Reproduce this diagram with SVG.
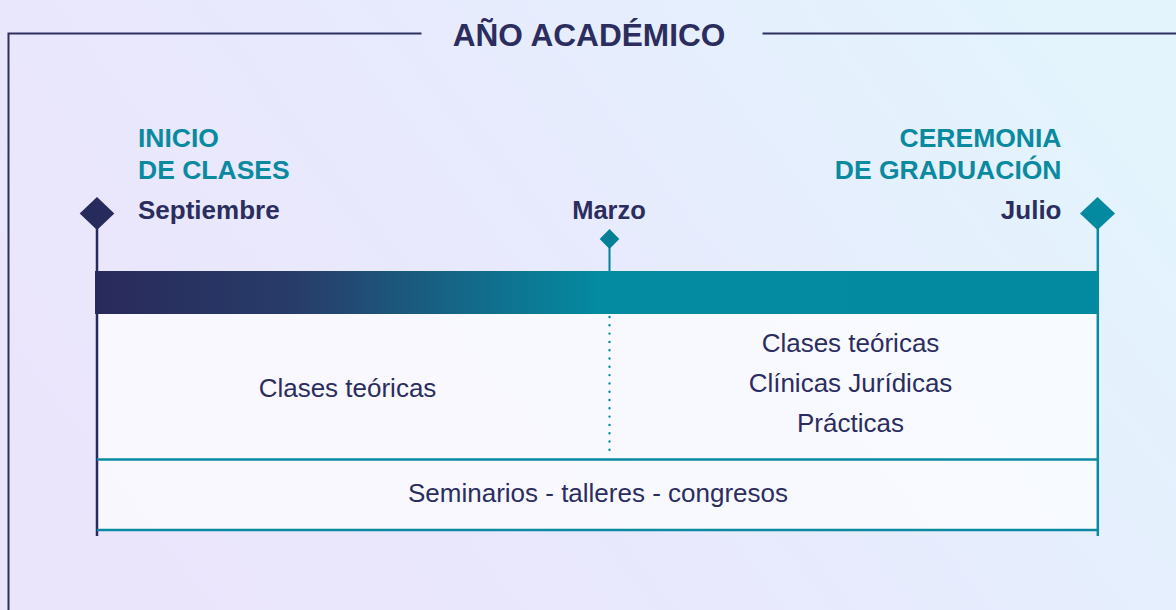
<svg xmlns="http://www.w3.org/2000/svg" width="1176" height="610" viewBox="0 0 1176 610">
<defs>
<linearGradient id="bg" x1="0" y1="0.7" x2="1" y2="0.3">
<stop offset="0" stop-color="#ebe5fc"/>
<stop offset="0.45" stop-color="#e8e9fd"/>
<stop offset="1" stop-color="#e3f4fd"/>
</linearGradient>
<linearGradient id="bar" x1="95" y1="0" x2="1099" y2="0" gradientUnits="userSpaceOnUse">
<stop offset="0" stop-color="#292a5b"/>
<stop offset="0.2" stop-color="#283c69"/>
<stop offset="0.5" stop-color="#048aa1"/>
<stop offset="1" stop-color="#0389a0"/>
</linearGradient>
<style>
.frame{fill:none;stroke:#2d2f60;stroke-width:2}
.navy{fill:#2b2d5e}
.teal{fill:#0a8aa0}
.bold{font-family:"Liberation Sans",Arial,sans-serif;font-weight:bold}
.reg{font-family:"Liberation Sans",Arial,sans-serif;font-size:26px;fill:#2b2d5e}
.tline{stroke:#0a8aa0;stroke-width:2.5;fill:none}
.panel{fill:#ffffff;fill-opacity:0.7}
</style>
</defs>
<rect width="1176" height="610" fill="url(#bg)"/>
<g id="frame">
<path class="frame" d="M421.5 33.5 H8.5 V610 M762.5 33.5 H1176"/>
<text class="bold navy" x="589" y="45.7" font-size="31.6" text-anchor="middle">AÑO ACADÉMICO</text>
</g>
<g id="panels">
<rect class="panel" x="97" y="313" width="1001" height="217"/>
</g>
<g id="bar">
<rect x="95" y="271" width="1004" height="43" fill="url(#bar)"/>
</g>
<g id="connectors">
<line x1="97" y1="225" x2="97" y2="536" stroke="#272a5c" stroke-width="2.5"/>
<line x1="1097.8" y1="225" x2="1097.8" y2="536" stroke="#0a8aa0" stroke-width="2.5"/>
<line x1="609.5" y1="245" x2="609.5" y2="271" stroke="#037f98" stroke-width="2"/>
<line x1="609.5" y1="317" x2="609.5" y2="450" stroke="#0a8aa0" stroke-width="2.4" stroke-linecap="round" stroke-dasharray="0 8.3"/>
<line class="tline" x1="97" y1="459.5" x2="1098" y2="459.5"/>
<line class="tline" x1="97" y1="530" x2="1098" y2="530"/>
</g>
<g id="inicio">
<polygon points="97,197 114.3,213.5 97,230 79.7,213.5" fill="#272a5c"/>
<text class="bold teal" x="138" y="147.3" font-size="26.5">INICIO</text>
<text class="bold teal" x="138" y="179" font-size="26.5">DE CLASES</text>
<text class="bold navy" x="138" y="218.5" font-size="26">Septiembre</text>
</g>
<g id="marzo">
<polygon points="609.5,229 619.3,239 609.5,249 599.7,239" fill="#037f98"/>
<text class="bold navy" x="609" y="218.5" font-size="25.5" text-anchor="middle">Marzo</text>
</g>
<g id="graduacion">
<polygon points="1097.5,197 1115,213.5 1097.5,230 1080,213.5" fill="#0389a0"/>
<text class="bold teal" x="1061.5" y="147.3" font-size="26.5" text-anchor="end">CEREMONIA</text>
<text class="bold teal" x="1061.5" y="179" font-size="26.5" text-anchor="end">DE GRADUACIÓN</text>
<text class="bold navy" x="1061.5" y="218.5" font-size="26" text-anchor="end">Julio</text>
</g>
<g id="primer-periodo">
<text class="reg" x="347.5" y="396.5" text-anchor="middle">Clases teóricas</text>
</g>
<g id="segundo-periodo">
<text class="reg" x="850.5" y="351.5" text-anchor="middle">Clases teóricas</text>
<text class="reg" x="850.5" y="391.5" text-anchor="middle">Clínicas Jurídicas</text>
<text class="reg" x="850.5" y="431.5" text-anchor="middle">Prácticas</text>
</g>
<g id="seminarios">
<text class="reg" x="598" y="502.3" text-anchor="middle">Seminarios - talleres - congresos</text>
</g>
</svg>
